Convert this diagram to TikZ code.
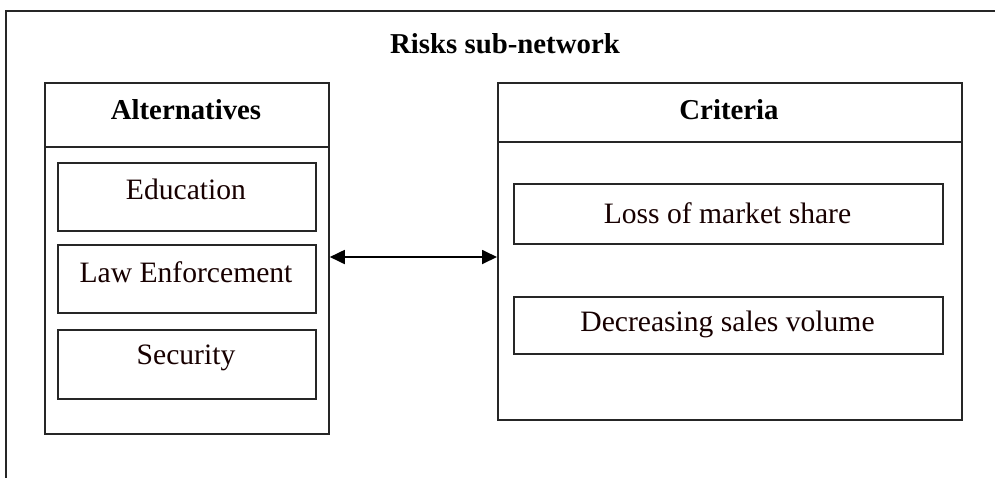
\documentclass[tikz,border=0pt]{standalone}
\usepackage{fontspec}
\setmainfont{Liberation Serif}
\usetikzlibrary{arrows.meta}
\begin{document}
\begin{tikzpicture}[x=0.5pt,y=-0.5pt,
  frame/.style={draw=black!85, line width=0.9pt},
  panel/.style={frame, rectangle, inner sep=0pt, anchor=north west},
  itembox/.style={frame, rectangle, inner sep=0pt, anchor=north west},
  itemtext/.style={font=\fontsize{14.8}{17}\selectfont, text=black!85!red!60!black, inner sep=0pt},
  headtext/.style={font=\fontsize{14.4}{17}\selectfont\bfseries, inner sep=0pt},
  link/.style={line width=0.9pt, {Triangle[length=7.5pt,width=7pt]}-{Triangle[length=7.5pt,width=7pt]}}
]
\useasboundingbox (0,0) rectangle (995,478);

% open outer frame (top and left edges)
\draw[frame] (995,11) -- (6,11) -- (6,478);
\node[headtext] (title) at (505,44) {Risks sub-network};

% Alternatives panel
\node[panel, minimum width=142pt, minimum height=175.5pt] (alt) at (44,82) {};
\draw[frame] (44,147) -- (328,147);
\node[headtext] (althead) at (186,110) {Alternatives};
\node[itembox, minimum width=129pt, minimum height=34pt] (edu) at (57,162) {};
\node[itemtext] (edut) at (186,189) {Education};
\node[itembox, minimum width=129pt, minimum height=34pt] (law) at (57,244) {};
\node[itemtext] (lawt) at (186,272) {Law Enforcement};
\node[itembox, minimum width=129pt, minimum height=34.5pt] (sec) at (57,329) {};
\node[itemtext] (sect) at (186,358) {Security};

% Criteria panel
\node[panel, minimum width=232pt, minimum height=168.5pt] (cri) at (497,82) {};
\draw[frame] (497,142) -- (961,142);
\node[headtext] (crihead) at (729,110) {Criteria};
\node[itembox, minimum width=214.5pt, minimum height=30pt] (loss) at (513,183) {};
\node[itemtext] (losst) at (727.5,213) {Loss of market share};
\node[itembox, minimum width=214.5pt, minimum height=28.5pt] (dec) at (513,296) {};
\node[itemtext] (dect) at (727.5,324) {Decreasing sales volume};

% two-way relation between the panels
\coordinate (la) at (alt.east |- 0,257);
\coordinate (lc) at (cri.west |- 0,257);
\draw[link] (la) -- (lc);
\end{tikzpicture}
\end{document}
